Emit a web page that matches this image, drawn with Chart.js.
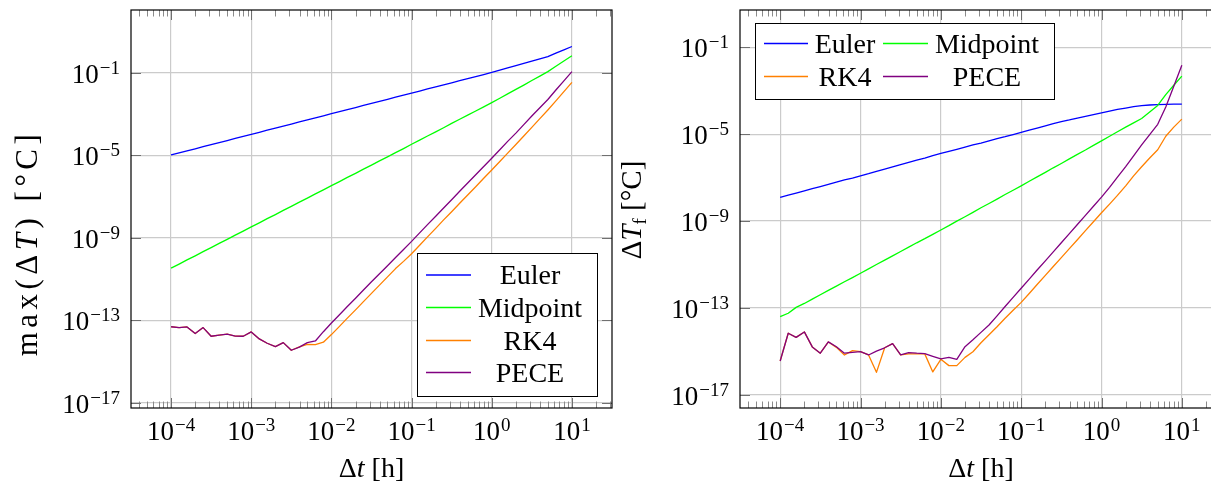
<!DOCTYPE html>
<html>
<head>
<meta charset="utf-8">
<title>Step size convergence</title>
<script src="https://cdn.jsdelivr.net/npm/chart.js@4.4.1/dist/chart.umd.min.js"></script>
<style>
  html, body { margin: 0; padding: 0; background: #fff; overflow: hidden; width: 1211px; height: 481px; }
  .panel { position: absolute; top: 0; }
</style>
</head>
<body>
<div class="panel" style="left:0"><canvas id="leftChart" width="615" height="481"></canvas></div>
<div class="panel" style="left:615px"><canvas id="rightChart" width="620" height="481"></canvas></div>
<script>
// ========================================
// Step size convergence plots (log-log)
// ========================================

// Time steps Δt [h]
const dt = [
  1.00e-4, 1.26e-4, 1.58e-4, 2.00e-4, 2.51e-4, 3.16e-4, 3.98e-4, 5.01e-4, 6.31e-4, 7.94e-4,
  1.00e-3, 1.26e-3, 1.58e-3, 2.00e-3, 2.51e-3, 3.16e-3, 3.98e-3, 5.01e-3, 6.31e-3, 7.94e-3,
  1.00e-2, 1.26e-2, 1.58e-2, 2.00e-2, 2.51e-2, 3.16e-2, 3.98e-2, 5.01e-2, 6.31e-2, 7.94e-2,
  1.00e-1, 1.26e-1, 1.58e-1, 2.00e-1, 2.51e-1, 3.16e-1, 3.98e-1, 5.01e-1, 6.31e-1, 7.94e-1,
  1.00, 1.26, 1.58, 2.00, 2.51, 3.16, 3.98, 5.01, 6.31, 7.94,
  10.0
];

// Axis decades (exponents) and ranges
const xTickExps = [-4, -3, -2, -1, 0, 1];
const yTickExps = [-1, -5, -9, -13, -17];
const xRange = [-4.5, 1.5];
const leftYRange = [-17.26, 2.04];
const rightYRange = [-17.6, 0.71];

const seriesNames = ['Euler', 'Midpoint', 'RK4', 'PECE'];
const seriesColors = ['#0000ff', '#00ff00', '#ff8000', '#800080'];

// log10 of max(ΔT) [°C] (left plot)
const eulerMaxLog = [
  -4.99, -4.89, -4.79, -4.69, -4.59, -4.49, -4.39, -4.29, -4.19, -4.09,
  -3.99, -3.89, -3.79, -3.69, -3.59, -3.49, -3.39, -3.29, -3.19, -3.09,
  -2.99, -2.89, -2.79, -2.69, -2.59, -2.49, -2.39, -2.29, -2.19, -2.09,
  -1.99, -1.89, -1.79, -1.69, -1.59, -1.49, -1.39, -1.29, -1.19, -1.09,
  -0.99, -0.88, -0.77, -0.66, -0.55, -0.44, -0.33, -0.22, -0.05, 0.11,
  0.27
];
const midpointMaxLog = [
  -10.48, -10.28, -10.08, -9.88, -9.68, -9.48, -9.28, -9.08, -8.88, -8.68,
  -8.48, -8.28, -8.08, -7.88, -7.68, -7.48, -7.28, -7.08, -6.88, -6.68,
  -6.48, -6.28, -6.08, -5.88, -5.68, -5.48, -5.28, -5.08, -4.88, -4.68,
  -4.47, -4.27, -4.07, -3.87, -3.67, -3.46, -3.26, -3.06, -2.86, -2.66,
  -2.45, -2.24, -2.03, -1.81, -1.60, -1.38, -1.17, -0.95, -0.69, -0.43,
  -0.18
];
const rk4MaxLog = [
  -13.32, -13.36, -13.33, -13.65, -13.36, -13.78, -13.73, -13.68, -13.77, -13.78,
  -13.57, -13.91, -14.12, -14.28, -14.09, -14.46, -14.30, -14.17, -14.19, -14.07,
  -13.70, -13.30, -12.90, -12.50, -12.10, -11.70, -11.30, -10.90, -10.50, -10.15,
  -9.78, -9.37, -8.96, -8.55, -8.14, -7.74, -7.33, -6.93, -6.53, -6.12,
  -5.72, -5.31, -4.90, -4.48, -4.07, -3.65, -3.23, -2.81, -2.37, -1.92,
  -1.47
];
const peceMaxLog = [
  -13.32, -13.36, -13.33, -13.65, -13.36, -13.78, -13.73, -13.68, -13.77, -13.78,
  -13.57, -13.91, -14.12, -14.28, -14.09, -14.46, -14.31, -14.09, -14.01, -13.56,
  -13.14, -12.74, -12.34, -11.94, -11.54, -11.14, -10.75, -10.36, -9.96, -9.57,
  -9.18, -8.77, -8.37, -7.96, -7.56, -7.16, -6.75, -6.35, -5.95, -5.55,
  -5.15, -4.74, -4.33, -3.93, -3.52, -3.10, -2.70, -2.30, -1.84, -1.40,
  -0.95
];

// log10 of ΔT_f [°C] (right plot)
const eulerFinalLog = [
  -7.91, -7.81, -7.71, -7.61, -7.51, -7.41, -7.31, -7.21, -7.11, -7.02,
  -6.92, -6.82, -6.71, -6.61, -6.51, -6.40, -6.30, -6.20, -6.10, -5.99,
  -5.89, -5.79, -5.70, -5.60, -5.50, -5.41, -5.31, -5.21, -5.12, -5.02,
  -4.92, -4.82, -4.72, -4.62, -4.52, -4.43, -4.35, -4.26, -4.18, -4.10,
  -4.02, -3.94, -3.86, -3.80, -3.74, -3.69, -3.66, -3.64, -3.63, -3.62,
  -3.62
];
const midpointFinalLog = [
  -13.40, -13.24, -12.97, -12.79, -12.59, -12.39, -12.19, -11.99, -11.79, -11.60,
  -11.40, -11.20, -11.00, -10.80, -10.60, -10.40, -10.20, -10.00, -9.81, -9.61,
  -9.41, -9.21, -9.00, -8.80, -8.60, -8.39, -8.19, -7.99, -7.78, -7.58,
  -7.38, -7.17, -6.97, -6.76, -6.55, -6.35, -6.14, -5.93, -5.73, -5.52,
  -5.31, -5.10, -4.89, -4.68, -4.48, -4.28, -3.98, -3.68, -3.18, -2.75,
  -2.33
];
const rk4FinalLog = [
  -15.44, -14.16, -14.35, -14.10, -14.79, -15.08, -14.56, -14.81, -15.16, -14.96,
  -15.01, -15.16, -15.96, -14.83, -14.64, -15.16, -15.11, -15.11, -15.11, -15.94,
  -15.36, -15.65, -15.65, -15.27, -15.01, -14.60, -14.23, -13.86, -13.47, -13.10,
  -12.74, -12.33, -11.92, -11.50, -11.09, -10.68, -10.27, -9.86, -9.44, -9.03,
  -8.62, -8.22, -7.82, -7.38, -6.92, -6.50, -6.10, -5.72, -5.10, -4.68,
  -4.31
];
const peceFinalLog = [
  -15.44, -14.16, -14.35, -14.10, -14.79, -15.08, -14.56, -14.78, -15.08, -15.04,
  -15.01, -15.16, -14.98, -14.83, -14.64, -15.16, -15.05, -15.08, -15.10, -15.22,
  -15.34, -15.27, -15.36, -14.78, -14.46, -14.12, -13.78, -13.36, -12.93, -12.51,
  -12.09, -11.67, -11.25, -10.83, -10.42, -10.00, -9.58, -9.16, -8.74, -8.32,
  -7.90, -7.45, -6.98, -6.50, -6.00, -5.50, -5.02, -4.55, -3.75, -2.80,
  -1.83
];

const FONT = '"Liberation Serif", "DejaVu Serif", serif';

function fontOf(p) {
  return (p.it ? 'italic ' : '') + (p.size || 27) + 'px ' + FONT;
}

function partWidth(ctx, p) {
  ctx.font = fontOf(p);
  return ctx.measureText(p.t).width + (p.ls || 0) * p.t.length + (p.gap || 0);
}

// Draw text made of several styled pieces (italic, sub/superscript, spacing)
function drawRich(ctx, parts, x, y, align) {
  const w = parts.reduce((sum, p) => sum + partWidth(ctx, p), 0);
  let cx = align === 'center' ? x - w / 2 : align === 'right' ? x - w : x;
  ctx.textAlign = 'left';
  ctx.textBaseline = 'alphabetic';
  parts.forEach(p => {
    ctx.font = fontOf(p);
    cx += (p.gap || 0);
    if (p.ls) {
      for (const ch of p.t) {
        ctx.fillText(ch, cx, y + (p.dy || 0));
        cx += ctx.measureText(ch).width + p.ls;
      }
    } else {
      ctx.fillText(p.t, cx, y + (p.dy || 0));
      cx += ctx.measureText(p.t).width;
    }
  });
}

function powerLabel(e) {
  const exp = e < 0 ? '\u2212' + Math.abs(e) : String(e);
  return [{ t: '10' }, { t: exp, size: 19, dy: -9, gap: 1 }];
}

function strokeLine(ctx, x1, y1, x2, y2) {
  ctx.beginPath();
  ctx.moveTo(x1, y1);
  ctx.lineTo(x2, y2);
  ctx.stroke();
}

// Axis box, inward ticks, tick labels, titles and legend (pgfplots look)
const pgfAxes = {
  id: 'pgfAxes',
  afterDraw(chart, args, opts) {
    const ctx = chart.ctx;
    const { left, right, top, bottom } = chart.chartArea;
    const xs = chart.scales.x;
    const ys = chart.scales.y;
    ctx.save();

    // minor x ticks
    ctx.strokeStyle = '#8a8a8a';
    ctx.lineWidth = 1;
    for (let d = Math.floor(xRange[0]); d <= Math.ceil(xRange[1]); d++) {
      for (let m = 2; m <= 9; m++) {
        const v = m * Math.pow(10, d);
        if (v < xs.min || v > xs.max) continue;
        const px = Math.round(xs.getPixelForValue(v)) + 0.5;
        strokeLine(ctx, px, bottom, px, bottom - 6.5);
        strokeLine(ctx, px, top, px, top + 6.5);
      }
    }
    // major ticks
    ctx.strokeStyle = '#707070';
    xTickExps.forEach(e => {
      const px = Math.round(xs.getPixelForValue(Math.pow(10, e))) + 0.5;
      strokeLine(ctx, px, bottom, px, bottom - 10);
      strokeLine(ctx, px, top, px, top + 10);
    });
    yTickExps.forEach(e => {
      const py = Math.round(ys.getPixelForValue(Math.pow(10, e))) + 0.5;
      strokeLine(ctx, left, py, left + 10, py);
      strokeLine(ctx, right, py, right - 10, py);
    });

    // axis box
    ctx.strokeStyle = '#000';
    ctx.lineWidth = 1.2;
    ctx.strokeRect(left, top, right - left, bottom - top);

    // tick labels
    ctx.fillStyle = '#000';
    xTickExps.forEach(e => {
      drawRich(ctx, powerLabel(e), xs.getPixelForValue(Math.pow(10, e)), 440, 'center');
    });
    yTickExps.forEach(e => {
      drawRich(ctx, powerLabel(e), left - 11, ys.getPixelForValue(Math.pow(10, e)) + 10, 'right');
    });

    // axis titles
    drawRich(ctx, [{ t: '\u0394', size: 28 }, { t: 't', it: true, size: 28 }, { t: ' [h]', size: 28 }],
      (left + right) / 2, 477, 'center');
    ctx.save();
    ctx.translate(opts.yTitleX, opts.yTitleY);
    ctx.rotate(-Math.PI / 2);
    drawRich(ctx, opts.yTitle, 0, 0, 'center');
    ctx.restore();

    // legend
    const lg = opts.legend;
    ctx.fillStyle = '#fff';
    ctx.fillRect(lg.box[0], lg.box[1], lg.box[2], lg.box[3]);
    ctx.strokeStyle = '#000';
    ctx.lineWidth = 1;
    ctx.strokeRect(lg.box[0] + 0.5, lg.box[1] + 0.5, lg.box[2], lg.box[3]);
    chart.data.datasets.forEach((ds, i) => {
      const col = lg.cols[i % lg.cols.length];
      const y = lg.rows[Math.floor(i / lg.cols.length)];
      ctx.strokeStyle = ds.borderColor;
      ctx.lineWidth = 1.3;
      strokeLine(ctx, col.x1, y, col.x2, y);
      ctx.fillStyle = '#000';
      drawRich(ctx, [{ t: ds.label, size: 28 }], col.tx, y + 9, 'center');
    });

    ctx.restore();
  }
};

function logAxis(range, tickExps, dim, size) {
  return {
    type: 'logarithmic',
    bounds: 'data',
    min: Math.pow(10, range[0]),
    max: Math.pow(10, range[1]),
    border: { display: false },
    grid: { color: '#cbcbcb', lineWidth: 1.2, drawTicks: false },
    ticks: { display: false },
    afterBuildTicks: s => { s.ticks = tickExps.map(e => ({ value: Math.pow(10, e) })); },
    afterFit: s => { s[dim] = size; }
  };
}

function buildChart(canvasId, logSeries, yRange, cfg) {
  const datasets = logSeries.map((s, i) => ({
    label: seriesNames[i],
    data: s.map((e, j) => ({ x: dt[j], y: Math.pow(10, e) })),
    borderColor: seriesColors[i],
    borderWidth: 1.3,
    borderJoinStyle: 'round',
    pointRadius: 0,
    fill: false,
    tension: 0,
    order: logSeries.length - 1 - i
  }));

  return new Chart(document.getElementById(canvasId), {
    type: 'line',
    data: { datasets },
    options: {
      responsive: false,
      animation: false,
      events: [],
      layout: { padding: { top: 10, right: cfg.padRight, left: 0, bottom: 0 } },
      plugins: {
        legend: { display: false },
        tooltip: { enabled: false },
        pgfAxes: cfg
      },
      scales: {
        x: logAxis(xRange, xTickExps, 'height', 73),
        y: logAxis(yRange, yTickExps, 'width', cfg.yAxisWidth)
      }
    },
    plugins: [pgfAxes]
  });
}

// Initialize page
document.addEventListener('DOMContentLoaded', () => {
  buildChart('leftChart', [eulerMaxLog, midpointMaxLog, rk4MaxLog, peceMaxLog], leftYRange, {
    yAxisWidth: 131,
    padRight: 3,
    yTitleX: 37,
    yTitleY: 243,
    yTitle: [
      { t: 'max(\u0394', size: 31, ls: 4.5 },
      { t: 'T', it: true, size: 31, ls: 4.5 },
      { t: ') [\u00b0C]', size: 31, ls: 4.5 }
    ],
    legend: {
      box: [417, 253, 180, 143],
      rows: [275, 307.5, 340.5, 372.5],
      cols: [{ x1: 426, x2: 471, tx: 530 }]
    }
  });

  buildChart('rightChart', [eulerFinalLog, midpointFinalLog, rk4FinalLog, peceFinalLog], rightYRange, {
    yAxisWidth: 125,
    padRight: 13,
    yTitleX: 26,
    yTitleY: 210,
    yTitle: [
      { t: '\u0394', size: 29 },
      { t: 'T', it: true, size: 29 },
      { t: 'f', size: 19, dy: 5 },
      { t: ' [\u00b0C]', size: 29 }
    ],
    legend: {
      box: [140, 23, 299, 76],
      rows: [43.5, 76.5],
      cols: [{ x1: 149, x2: 193, tx: 230 }, { x1: 268, x2: 313, tx: 372 }]
    }
  });
});
</script>
</body>
</html>
